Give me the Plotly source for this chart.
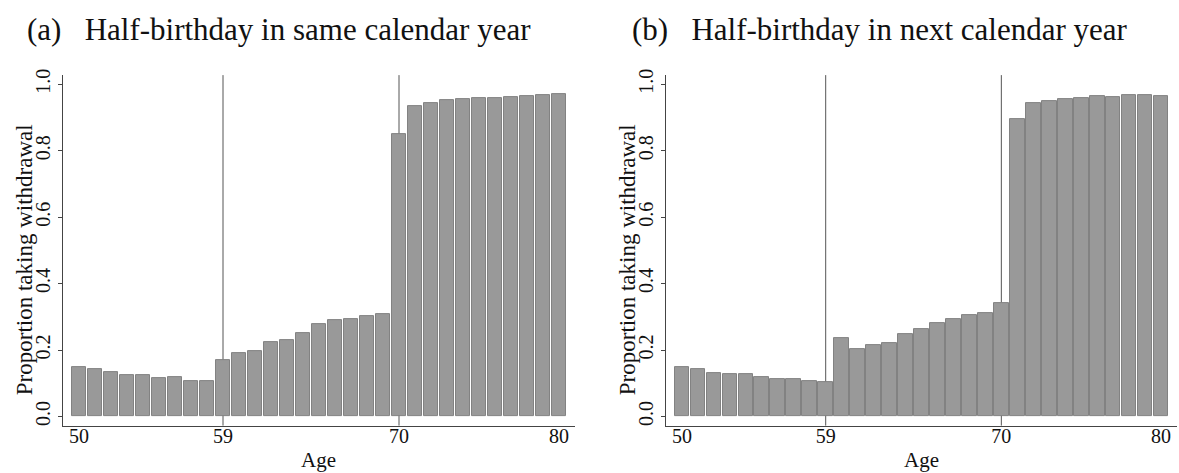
import plotly.graph_objects as go

ages = list(range(50, 81))
same_year = [0.148, 0.141, 0.133, 0.125, 0.123, 0.114, 0.117, 0.106, 0.105,
             0.171, 0.191, 0.198, 0.224, 0.230, 0.252, 0.278, 0.290, 0.293, 0.302, 0.307,
             0.851, 0.934, 0.944, 0.951, 0.956, 0.957, 0.958, 0.962, 0.964, 0.967, 0.970]
next_year = [0.148, 0.142, 0.130, 0.127, 0.128, 0.118, 0.113, 0.111, 0.106, 0.103,
             0.236, 0.204, 0.216, 0.222, 0.247, 0.264, 0.282, 0.293, 0.305, 0.312, 0.341,
             0.894, 0.942, 0.950, 0.956, 0.959, 0.963, 0.962, 0.966, 0.968, 0.964]
x_ticks = [50, 59, 70, 80]
y_ticks = [0.0, 0.2, 0.4, 0.6, 0.8, 1.0]
y_ticktext = ["0.0", "0.2", "0.4", "0.6", "0.8", "1.0"]
cutoffs = [59, 70]
titles = ["(a)\u2002 Half-birthday in same calendar year",
          "(b)\u2002 Half-birthday in next calendar year"]
x_title = "Age"
y_title = "Proportion taking withdrawal"

W, H = 1179, 473
FONT = "Liberation Serif"
BAR_FILL = "#999999"
BAR_LINE = "#828282"
AXIS = "#444444"

fig = go.Figure()
for i, vals in enumerate([same_year, next_year]):
    xa = "x" if i == 0 else "x2"
    ya = "y" if i == 0 else "y2"
    fig.add_trace(go.Bar(x=ages, y=vals, xaxis=xa, yaxis=ya, width=0.92,
                         marker=dict(color=BAR_FILL, line=dict(color=BAR_LINE, width=1)),
                         showlegend=False))
    for c in cutoffs:
        fig.add_shape(type="line", xref=xa, yref=ya + " domain", x0=c, x1=c, y0=0, y1=1,
                      line=dict(color="#555555", width=1), layer="below")

ydom = [(H - 425) / H, (H - 70) / H]
xdoms = [[63 / W, 575 / W], [666 / W, 1177 / W]]
yr = [-0.0276, 1.0276]

common_x = dict(range=[49, 81], tickvals=x_ticks, ticks="", showline=True, linecolor=AXIS,
                linewidth=1, showgrid=False, zeroline=False, ticklabelstandoff=-8,
                tickfont=dict(family=FONT, size=20, color="#111"))
common_y = dict(range=yr, tickvals=y_ticks, ticktext=y_ticktext, ticks="outside", ticklen=4,
                tickcolor=AXIS, showline=True, linecolor=AXIS, linewidth=1, showgrid=False,
                zeroline=False, tickangle=-90,
                tickfont=dict(family=FONT, size=20, color="#111"), domain=ydom)

fig.update_layout(
    width=W, height=H, margin=dict(l=0, r=0, t=0, b=0),
    paper_bgcolor="white", plot_bgcolor="white", bargap=0,
    xaxis=dict(domain=xdoms[0], anchor="y", **common_x),
    xaxis2=dict(domain=xdoms[1], anchor="y2", **common_x),
    yaxis=dict(anchor="x", **common_y),
    yaxis2=dict(anchor="x2", **common_y),
    font=dict(family=FONT, color="#111"),
)

title_offsets = [-40, -42]
for i in range(2):
    x0, x1 = xdoms[i]
    fig.add_annotation(text=titles[i], xref="paper", yref="paper",
                       x=(x0 + x1) / 2 + title_offsets[i] / W, y=1 - 24 / H,
                       xanchor="center", yanchor="middle",
                       showarrow=False, font=dict(family=FONT, size=31, color="#111"))
    fig.add_annotation(text=x_title, xref="paper", yref="paper",
                       x=(x0 + x1) / 2, y=1 - 460 / H, xanchor="center", yanchor="middle",
                       showarrow=False, font=dict(family=FONT, size=21, color="#111"))
    fig.add_annotation(text=y_title, xref="paper", yref="paper", textangle=-90,
                       x=x0 - 39 / W, y=(ydom[0] + ydom[1]) / 2 - 10 / H,
                       xanchor="center", yanchor="middle",
                       showarrow=False, font=dict(family=FONT, size=23, color="#111"))

fig.write_html("out.html", config={"displayModeBar": False},
               post_script="document.body.style.margin='0px';")
